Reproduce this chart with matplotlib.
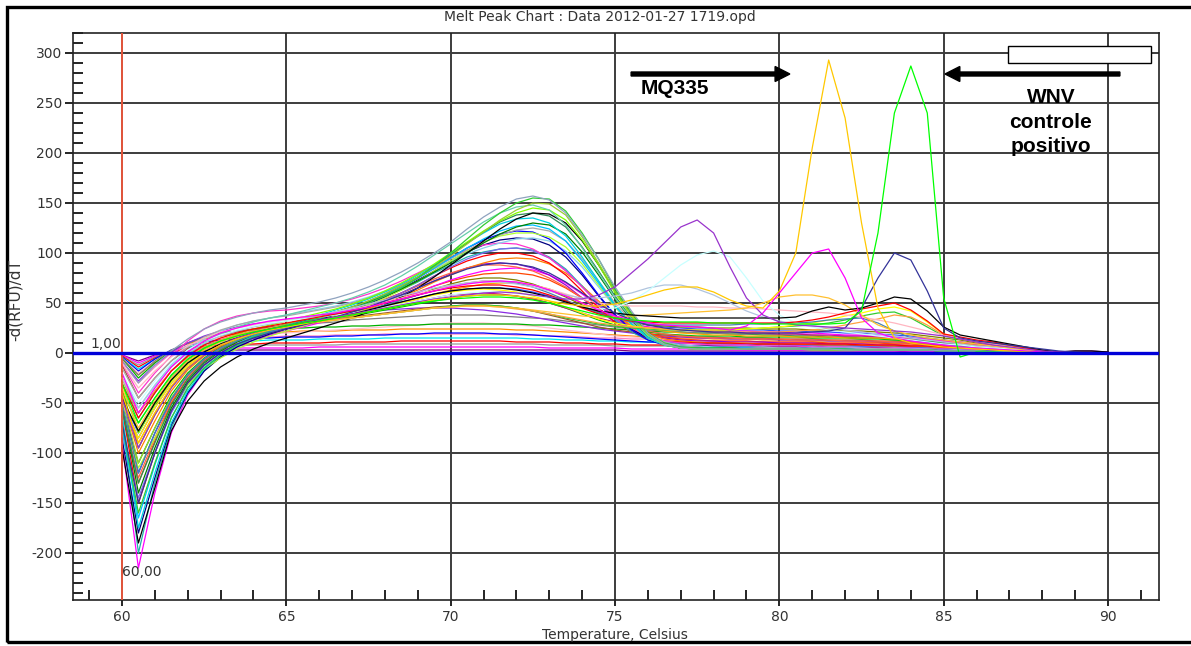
import matplotlib
matplotlib.use("Agg")
import matplotlib.pyplot as plt
from matplotlib.patches import FancyArrow, Rectangle
from matplotlib.ticker import MultipleLocator
import numpy as np

plt.rcParams["font.family"] = ["DejaVu Sans"]
plt.rcParams["axes.unicode_minus"] = False

# Temperature readings, one every 0.5 degC
temperature = np.arange(60.0, 90.01, 0.5)

# -d(RFU)/dT per well
tall_gray = [-8,-30,-12,2,14,24,31,36,40,43,
             45,48,51,55,60,66,73,81,90,100,
             111,124,136,146,154,157,153,140,118,94,
             66,42,20,9,5,4,4,4,4,4,
             4,4,4,4,3,3,3,3,3,3,
             2,2,2,1,1,1,0,0,0,0,0]
tall_green = [-70,-160,-110,-65,-35,-15,-2,8,16,22,
              27,31,35,39,44,50,57,65,75,87,
              100,114,128,140,150,155,154,142,120,94,
              64,40,20,10,6,5,5,5,4,4,
              4,4,4,4,4,3,3,3,3,3,
              2,2,2,1,1,1,0,0,0,0,0]
tall_yellowgreen = [-45,-110,-75,-45,-22,-6,5,13,20,25,
                    29,33,37,41,46,52,59,67,76,86,
                    97,109,121,133,143,150,149,138,116,90,
                    62,38,19,9,5,4,4,4,4,4,
                    4,4,3,3,3,3,3,3,3,3,
                    2,2,2,1,1,1,0,0,0,0,0]
tall_black = [-95,-190,-135,-78,-48,-28,-14,-4,4,10,
              15,20,25,30,35,41,48,56,65,76,
              88,100,112,124,134,140,139,130,112,88,
              62,38,20,9,5,4,4,4,4,4,
              4,4,4,3,3,3,3,3,3,3,
              2,2,2,1,1,1,0,0,0,0,0]
tall_cyan = [-60,-175,-120,-70,-38,-16,-2,9,17,23,
             28,33,38,43,48,54,61,69,78,88,
             99,110,120,129,134,135,130,117,96,72,
             48,29,15,8,5,5,5,4,4,4,
             4,4,4,4,3,3,3,3,3,3,
             2,2,2,1,1,1,0,0,0,0,0]
tall_lime = [-30,-80,-52,-28,-10,3,12,19,24,28,
             32,36,40,44,49,55,62,70,79,89,
             100,111,122,132,140,145,143,133,113,88,
             60,37,18,9,5,4,4,4,4,4,
             4,4,4,3,3,3,3,3,3,3,
             2,2,2,1,1,1,0,0,0,0,0]
tall_darkgreen = [-50,-140,-95,-55,-28,-10,2,11,18,24,
                  29,33,37,41,46,51,57,64,72,81,
                  90,100,110,119,126,130,128,119,101,78,
                  54,33,17,8,5,5,5,5,4,4,
                  4,4,4,4,3,3,3,3,3,3,
                  2,2,2,1,1,1,0,0,0,0,0]
tall_aqua = [-25,-65,-40,-18,-2,10,19,26,31,35,
             38,42,46,50,55,61,68,77,87,98,
             109,120,131,140,146,148,143,128,105,80,
             55,34,17,8,5,4,4,4,4,4,
             4,4,3,3,3,3,3,3,3,3,
             2,2,2,1,1,1,0,0,0,0,0]
tall_seagreen = [-55,-130,-90,-52,-26,-9,3,12,19,24,
                 29,33,37,41,46,52,59,67,76,87,
                 98,110,121,131,138,140,137,126,106,82,
                 57,35,18,9,5,5,4,4,4,4,
                 4,4,4,3,3,3,3,3,3,3,
                 2,2,2,1,1,1,0,0,0,0,0]

mid_deepsky = [-75,-165,-112,-65,-35,-15,-2,8,16,22,
               27,31,35,40,45,51,58,66,75,85,
               95,105,114,122,127,128,124,112,92,70,
               47,29,16,9,6,5,5,5,5,4,
               4,4,4,4,4,3,3,3,3,3,
               2,2,2,1,1,1,0,0,0,0,0]
mid_greenyellow = [-55,-115,-85,-55,-32,-16,-5,4,11,17,
                   22,27,32,37,42,48,55,63,72,82,
                   92,102,111,117,120,120,116,106,89,68,
                   46,28,15,8,5,4,4,4,4,4,
                   4,4,4,3,3,3,3,3,3,3,
                   2,2,2,1,1,1,0,0,0,0,0]
mid_blue = [-40,-120,-80,-46,-22,-6,5,13,19,24,
            28,32,36,40,45,51,58,66,75,85,
            95,105,113,119,122,121,114,100,80,58,
            38,23,13,8,6,5,5,5,5,4,
            4,4,4,4,4,3,3,3,3,3,
            3,2,2,2,1,1,0,0,0,0,0]
mid_pink = [-10,-40,-20,-3,12,24,32,37,40,42,
            43,45,47,50,54,59,65,72,80,88,
            96,103,108,110,109,104,95,82,66,50,
            36,25,17,12,10,9,8,8,8,7,
            7,7,6,6,6,5,5,5,5,4,
            4,3,3,2,2,1,1,0,0,0,0]
mid_orange = [-45,-100,-68,-38,-17,-3,7,14,19,23,
              26,29,32,35,39,44,50,56,63,71,
              78,85,90,94,95,94,89,80,67,52,
              38,27,19,14,12,11,10,10,10,9,
              9,9,8,8,8,8,7,7,7,6,
              5,4,3,3,2,1,1,0,0,0,0]
mid_red = [-55,-150,-100,-58,-30,-12,0,9,15,20,
           24,28,32,36,41,47,53,60,68,77,
           85,92,97,100,100,97,90,78,62,45,
           31,21,15,12,11,10,10,10,9,9,
           9,9,9,9,9,8,8,8,7,7,
           6,5,4,3,2,2,1,0,0,0,0]
mid_tomato = [-60,-125,-85,-48,-23,-7,4,12,18,22,
              26,30,34,38,43,48,54,60,67,74,
              80,85,88,88,86,82,75,66,55,44,
              34,27,22,19,17,16,15,15,14,14,
              14,13,13,13,12,12,12,11,11,10,
              9,8,6,5,4,3,2,1,0,0,0]
mid_skyblue = [-20,-55,-32,-12,3,14,22,28,32,35,
               38,41,44,47,51,56,62,69,76,84,
               92,99,105,110,114,115,112,102,86,66,
               46,30,18,11,8,7,6,6,6,6,
               5,5,5,5,5,5,4,4,4,4,
               3,3,2,2,1,1,0,0,0,0,0]
mid_violet = [-48,-85,-55,-30,-12,0,9,15,20,24,
              27,30,33,37,41,46,52,58,65,72,
              79,85,89,90,89,85,78,68,55,42,
              31,23,18,15,13,12,12,11,11,11,
              10,10,10,9,9,9,8,8,7,7,
              6,5,4,3,2,1,1,0,0,0,0]
mid_slateblue = [-80,-145,-100,-60,-32,-13,0,9,15,20,
                 25,29,33,37,42,47,53,60,68,77,
                 86,94,100,104,105,102,95,83,66,49,
                 34,23,16,12,10,9,8,8,8,7,
                 7,7,7,6,6,6,6,5,5,5,
                 4,4,3,2,2,1,1,0,0,0,0]
mid_seagreen = [-65,-200,-130,-75,-40,-18,-4,7,15,21,
                26,30,34,38,43,49,56,63,71,80,
                88,96,101,104,105,103,96,84,67,49,
                33,21,13,9,7,6,6,6,6,5,
                5,5,5,5,5,4,4,4,4,4,
                3,3,2,2,1,1,0,0,0,0,0]
mid_magenta = [-90,-215,-140,-80,-42,-18,-3,7,13,18,
               22,26,30,34,38,43,48,54,60,67,
               73,78,82,84,85,83,78,70,59,47,
               37,30,26,24,23,23,23,22,22,21,
               21,20,20,19,18,18,17,16,15,14,
               12,11,9,7,5,3,2,1,0,0,0]
mid_olive = [-35,-95,-62,-34,-15,-2,7,13,18,22,
             25,28,31,34,38,42,47,53,58,64,
             69,73,75,75,73,69,63,56,48,41,
             35,31,28,27,26,26,25,25,25,24,
             24,24,23,23,22,22,21,20,19,17,
             15,13,10,8,6,4,2,1,0,0,0]
mid_navy = [-85,-180,-125,-72,-40,-18,-4,6,13,19,
            24,28,33,38,43,49,56,64,73,82,
            92,101,108,113,115,114,108,96,78,57,
            38,24,15,10,8,7,7,6,6,6,
            6,6,5,5,5,5,5,4,4,4,
            3,3,2,2,1,1,0,0,0,0,0]
mid_gray = [-15,-45,-25,-8,6,16,23,28,32,35,
            37,40,43,46,50,55,61,68,76,85,
            94,103,111,118,123,125,122,112,94,72,
            50,32,19,11,7,6,5,5,5,5,
            5,5,4,4,4,4,4,4,3,3,
            3,2,2,1,1,1,0,0,0,0,0]

low_royal = [-45,-80,-50,-27,-10,1,9,15,19,23,
             26,29,32,35,39,43,47,51,55,59,
             62,64,65,65,64,61,57,52,46,40,
             35,31,28,26,25,24,24,23,23,23,
             22,22,21,21,20,20,19,18,17,15,
             13,11,9,7,5,3,2,1,0,0,0]
low_sienna = [-12,-45,-25,-8,4,12,17,21,24,26,
              28,30,32,34,36,38,40,42,44,46,
              47,48,48,47,45,42,38,34,30,26,
              23,21,19,18,17,16,16,15,15,15,
              14,14,14,13,13,13,12,12,11,10,
              9,8,7,5,4,3,2,1,0,0,0]
low_orangered = [-50,-130,-88,-50,-25,-8,3,11,17,22,
                 26,29,33,37,41,45,50,55,61,67,
                 72,76,79,80,80,78,73,65,55,44,
                 34,26,20,16,14,13,12,12,12,11,
                 11,11,11,10,10,10,10,9,9,8,
                 7,6,5,4,3,2,1,0,0,0,0]
low_blueviolet = [-8,-28,-12,1,10,17,22,26,29,31,
                  33,35,37,39,41,42,43,44,45,45,
                  45,44,43,41,39,36,33,30,27,24,
                  22,20,18,17,16,15,15,14,14,14,
                  13,13,13,12,12,12,11,11,10,9,
                  8,7,6,5,4,3,2,1,0,0,0]
low_amber = [-42,-90,-60,-34,-15,-2,7,13,18,22,
             25,28,31,34,37,41,45,49,54,59,
             63,66,69,70,70,68,64,58,50,42,
             35,29,25,22,20,19,18,18,17,17,
             17,16,16,16,15,15,15,14,14,13,
             12,10,8,6,5,3,2,1,0,0,0]
low_darkgray = [-5,-22,-8,3,10,15,19,22,24,26,
                27,29,30,31,33,34,35,36,37,38,
                38,38,38,37,36,35,34,32,30,28,
                26,24,23,22,21,20,20,19,19,19,
                18,18,18,17,17,17,16,16,15,14,
                13,11,9,7,5,3,2,1,0,0,0]
low_green = [-55,-110,-75,-42,-20,-5,6,13,18,22,
             25,28,31,34,37,40,43,46,49,52,
             55,57,58,58,57,54,50,45,39,33,
             28,24,21,19,18,17,17,17,16,16,
             16,16,15,15,15,14,14,13,12,11,
             10,9,7,6,4,3,2,1,0,0,0]
low_violetred = [-25,-60,-38,-18,-4,6,13,18,22,25,
                 28,31,34,37,40,43,46,49,52,55,
                 58,59,60,59,57,54,50,45,40,35,
                 31,28,26,24,23,22,21,21,20,20,
                 19,19,18,18,17,17,16,15,14,13,
                 11,10,8,6,5,3,2,1,0,0,0]

flat_green = [-5,-25,-10,2,10,16,20,22,23,24,
              25,25,26,26,27,27,28,28,28,29,
              29,29,29,29,29,28,28,27,26,25,
              24,23,22,21,21,20,20,19,19,18,
              18,17,17,16,16,15,15,14,13,12,
              11,10,8,6,5,3,2,1,0,0,0]
flat_blue = [-4,-18,-6,3,8,11,13,14,15,15,
             16,16,16,17,17,18,18,19,19,20,
             20,20,20,19,19,18,17,16,15,14,
             13,12,11,11,10,10,10,9,9,9,
             9,8,8,8,8,7,7,7,6,6,
             5,4,4,3,2,2,1,0,0,0,0]
flat_red = [-3,-14,-5,1,5,7,8,9,9,10,
            10,10,10,11,11,11,11,12,12,12,
            12,12,12,12,11,11,11,10,10,9,
            9,8,8,8,7,7,7,7,6,6,
            6,6,5,5,5,5,5,4,4,4,
            3,3,2,2,1,1,1,0,0,0,0]
flat_magenta = [-2,-10,-3,1,3,4,4,5,5,5,
                5,5,6,6,6,6,6,6,6,6,
                6,6,6,6,6,6,5,5,5,5,
                5,4,4,4,4,4,4,3,3,3,
                3,3,3,3,3,2,2,2,2,2,
                2,1,1,1,1,0,0,0,0,0,0]
flat_cyan = [-4,-16,-6,2,6,9,11,12,12,13,
             13,13,14,14,14,14,15,15,15,15,
             15,15,15,15,15,14,14,13,13,12,
             12,11,11,10,10,10,9,9,9,9,
             8,8,8,8,7,7,7,7,6,6,
             5,5,4,3,3,2,1,1,0,0,0]
flat_gray = [-3,-12,-4,1,4,6,7,7,8,8,
             8,8,8,8,9,9,9,9,9,9,
             9,9,9,9,9,9,8,8,8,8,
             7,7,7,7,6,6,6,6,6,5,
             5,5,5,5,5,4,4,4,4,4,
             3,3,2,2,2,1,1,0,0,0,0]
flat_orange = [-6,-22,-9,2,9,14,17,19,20,21,
               21,22,22,22,23,23,23,24,24,24,
               24,24,24,24,23,23,22,21,20,19,
               18,17,16,16,15,15,14,14,14,13,
               13,13,12,12,12,11,11,10,10,9,
               8,7,6,5,4,3,2,1,0,0,0]
flat_purple = [-2,-8,-2,1,2,2,3,3,3,3,
               3,3,3,3,3,3,3,3,3,3,
               3,3,3,3,3,3,3,3,3,3,
               3,2,2,2,2,2,2,2,2,2,
               2,2,2,2,2,2,2,2,1,1,
               1,1,1,1,1,1,1,1,2,2,1]
flat_rose = [-8,-30,-14,0,8,12,14,15,16,16,
             17,17,17,18,18,18,19,19,19,19,
             19,19,19,19,18,18,17,17,16,15,
             15,14,14,13,13,13,12,12,12,11,
             11,11,11,10,10,10,9,9,8,8,
             7,6,5,4,3,2,1,1,0,0,0]
flat_lightpink = [-5,-20,-8,2,8,12,15,17,18,19,
                  20,21,22,23,24,25,26,27,28,29,
                  30,30,30,29,28,27,25,23,21,19,
                  17,16,15,14,13,13,12,12,12,11,
                  11,11,10,10,10,9,9,8,8,7,
                  6,5,4,4,3,2,1,1,0,0,0]

# Wells with a second melt peak
purple_77 = [-45,-95,-62,-35,-15,-2,8,15,20,24,
             27,30,33,36,39,42,45,48,51,54,
             56,58,60,61,60,58,56,54,54,58,
             66,80,94,110,126,133,120,86,55,38,
             31,28,27,26,25,24,23,22,21,19,
             17,14,11,8,6,4,2,1,0,0,0]
palecyan_78 = [-20,-50,-28,-10,3,12,18,23,27,30,
               32,34,36,38,40,43,46,49,52,55,
               58,60,61,61,60,58,55,51,47,44,
               45,52,62,75,88,98,102,96,75,52,
               38,30,26,23,21,19,17,15,13,11,
               9,8,6,5,4,3,2,1,0,0,0]
steel_77 = [-25,-55,-33,-14,0,10,17,22,26,29,
            32,35,38,41,45,49,53,57,61,65,
            68,70,71,71,69,66,62,58,55,55,
            57,60,65,68,68,64,58,50,42,36,
            32,29,27,25,23,21,19,17,15,13,
            11,9,7,6,4,3,2,1,0,0,0]
rose_shoulder = [-10,-35,-18,-4,7,15,21,25,28,31,
                 33,36,38,41,44,47,51,55,59,63,
                 67,70,72,72,71,68,64,59,54,50,
                 48,47,47,47,47,46,46,45,45,44,
                 43,42,41,40,38,36,33,30,26,22,
                 18,15,12,9,6,4,2,1,0,0,0]
gold_81 = [-35,-75,-48,-25,-8,3,11,17,21,24,
           27,29,31,33,35,37,39,41,43,45,
           46,47,47,46,45,43,41,39,37,36,
           36,37,38,39,40,41,42,43,45,50,
           56,58,58,55,48,38,28,22,18,15,
           13,11,9,7,5,3,2,1,0,0,0]
magenta_81 = [-20,-60,-35,-14,1,12,20,25,29,32,
              34,36,38,40,43,46,50,54,58,62,
              66,69,71,72,71,68,63,57,50,43,
              37,33,30,28,27,26,25,23,27,40,
              60,80,100,104,75,35,20,15,12,10,
              8,6,5,4,3,2,1,0,0,0,0]
steelblue_82 = [-50,-120,-80,-46,-22,-6,5,12,18,22,
                26,29,32,35,39,43,48,53,58,63,
                67,70,72,72,70,66,60,53,46,40,
                35,31,29,28,28,28,28,28,29,29,
                30,30,31,33,34,35,30,22,15,11,
                9,7,6,5,4,3,2,1,0,0,0]
navy_83 = [-70,-150,-100,-58,-30,-12,0,9,15,20,
           24,28,32,36,41,46,52,58,65,72,
           78,84,88,90,89,86,80,71,60,49,
           40,33,28,25,23,22,21,21,20,20,
           20,20,21,22,25,45,75,100,93,62,
           25,15,12,10,8,6,4,2,1,0,0]
black_83 = [-45,-78,-50,-27,-10,1,9,15,20,24,
            27,30,33,36,39,43,47,51,55,59,
            62,64,65,65,63,60,56,51,46,42,
            40,38,37,36,35,35,35,35,35,35,
            35,36,42,46,43,45,50,56,54,42,
            26,18,15,12,9,6,3,1,2,2,1]
red_83 = [-30,-65,-40,-18,-3,8,15,20,24,27,
          30,33,36,39,42,46,50,54,58,62,
          65,67,68,68,66,63,58,52,45,39,
          35,32,31,30,30,30,30,30,30,30,
          30,31,33,36,40,44,47,50,43,32,
          19,16,13,11,8,5,2,1,0,0,0]
orange_83 = [-25,-60,-38,-18,-4,6,13,18,22,25,
             27,29,31,33,35,37,39,41,43,45,
             46,47,47,46,44,42,39,36,33,30,
             28,26,25,24,23,22,22,21,21,21,
             21,22,23,25,28,31,34,38,36,28,
             18,14,11,9,7,5,3,1,0,0,0]
yellow_83 = [-50,-85,-55,-30,-12,0,9,15,20,24,
             27,30,33,36,39,42,46,50,54,58,
             61,63,64,63,61,57,52,46,40,34,
             30,27,25,24,23,23,23,23,24,25,
             26,28,30,33,37,40,44,46,42,31,
             19,15,12,10,7,5,3,1,0,0,0]
green_83 = [-40,-70,-45,-23,-7,4,12,17,21,24,
            27,29,31,33,35,37,39,41,43,45,
            47,48,48,47,45,42,39,35,32,29,
            27,25,24,23,23,23,23,23,24,25,
            26,27,28,30,33,37,40,41,35,26,
            17,14,11,9,7,5,3,1,0,0,0]

# Samples pointed out on the chart
mq335 = [-40,-90,-60,-33,-14,-1,8,14,19,23,
         26,29,32,35,38,41,44,47,50,53,
         55,57,58,58,57,55,52,49,47,47,
         49,53,58,63,66,66,61,53,47,45,
         62,100,205,293,235,130,45,15,10,8,
         6,5,4,3,2,1,0,0,0,0,0]
wnv_positive = [-30,-70,-45,-22,-6,5,12,17,21,24,
                27,30,32,35,38,41,44,47,50,52,
                54,55,56,56,55,53,50,46,42,38,
                35,33,32,31,31,31,30,30,30,29,
                29,29,29,29,30,42,120,240,287,240,
                55,-4,1,1,0,0,0,0,0,0,0]

wells = [
    (flat_purple, "#800080"), (flat_magenta, "#ff00ff"), (flat_gray, "#9a9a9a"),
    (flat_red, "#ff0000"), (flat_cyan, "#00e5ee"), (flat_rose, "#ff80c0"),
    (flat_blue, "#0000ff"), (flat_orange, "#ff8c00"), (flat_lightpink, "#ffc0cb"),
    (flat_green, "#00b000"),
    (low_darkgray, "#808080"), (low_blueviolet, "#8a2be2"), (low_sienna, "#a0522d"),
    (low_green, "#00c000"), (low_violetred, "#c71585"), (low_amber, "#ffa500"),
    (low_royal, "#3050ff"), (low_orangered, "#ff4500"),
    (mid_olive, "#808000"), (mid_magenta, "#ff00ff"), (mid_violet, "#9400d3"),
    (mid_orange, "#ff8000"), (mid_tomato, "#ff6347"), (mid_red, "#ff0000"),
    (mid_seagreen, "#20b2aa"), (mid_slateblue, "#7b68ee"), (mid_navy, "#000080"),
    (mid_pink, "#ff33cc"), (mid_skyblue, "#87ceeb"), (mid_blue, "#0000ff"),
    (mid_greenyellow, "#adff2f"), (mid_gray, "#a9a9a9"), (mid_deepsky, "#00bfff"),
    (tall_darkgreen, "#008000"), (tall_cyan, "#00d0e0"), (tall_seagreen, "#2e8b57"),
    (tall_black, "#000000"), (tall_lime, "#80ff00"), (tall_aqua, "#66cdaa"),
    (tall_yellowgreen, "#9acd32"), (tall_green, "#32cd32"), (tall_gray, "#8fa3bf"),
    (green_83, "#32cd32"), (yellow_83, "#ffff00"), (orange_83, "#ffa040"),
    (steelblue_82, "#4682b4"), (rose_shoulder, "#ffb6c1"), (steel_77, "#b0c4de"),
    (palecyan_78, "#c8ffff"), (gold_81, "#ffc030"), (red_83, "#ff0000"),
    (black_83, "#000000"), (navy_83, "#333399"), (magenta_81, "#ff00ff"),
    (purple_77, "#9933cc"), (mq335, "#ffc800"), (wnv_positive, "#00ff00"),
]

W, H = 1191, 646
fig = plt.figure(figsize=(W / 100, H / 100), dpi=100)
ax = fig.add_axes([73 / W, 1 - 600 / H, (1159 - 73) / W, (600 - 33) / H])

for values, color in wells:
    ax.plot(temperature, values, color=color, lw=0.9, zorder=3)

ax.set_xlim(58.51, 91.55)
ax.set_ylim(-247, 320)
ax.xaxis.set_major_locator(MultipleLocator(5))
ax.xaxis.set_minor_locator(MultipleLocator(1))
ax.yaxis.set_major_locator(MultipleLocator(50))
ax.yaxis.set_minor_locator(MultipleLocator(10))
ax.grid(which="major", color="#3c3c3c", lw=1.4, zorder=1)
ax.set_axisbelow(True)
ax.tick_params(axis="y", which="major", direction="out", length=6, width=1.2,
               labelsize=10, labelcolor="#333333", pad=1.5)
ax.tick_params(axis="x", which="major", direction="out", length=4, width=1.2,
               labelsize=10, labelcolor="#333333", pad=3)
ax.tick_params(which="minor", direction="in", length=7, width=1.2)
for side in ("left", "bottom", "right", "top"):
    ax.spines[side].set_linewidth(1.2)
    ax.spines[side].set_color("#222222")

# Melt start marker and threshold line
ax.axvline(60, color="#ff5a3c", lw=1.2, zorder=6)
ax.axhline(0, color="#0000d8", lw=2.4, zorder=7)
ax.text(59.51, 9, "1,00", fontsize=10, color="#333333", ha="center", va="center", zorder=8)
ax.text(60.61, -219, "60,00", fontsize=10, color="#333333", ha="center", va="center", zorder=8)

# Annotations for the two samples of interest
ax.add_patch(FancyArrow(75.49, 279, 80.32 - 75.49, 0, width=4, head_width=15,
                        head_length=0.45, length_includes_head=True,
                        color="black", zorder=9, clip_on=False))
ax.add_patch(FancyArrow(90.36, 279, 85.04 - 90.36, 0, width=4, head_width=15,
                        head_length=0.45, length_includes_head=True,
                        color="black", zorder=9, clip_on=False))
ax.text(76.82, 264, "MQ335", fontsize=15, fontweight="bold", family="Liberation Sans",
        ha="center", va="center", zorder=9)
ax.text(88.26, 231, "WNV\ncontrole\npositivo", fontsize=15, fontweight="bold",
        family="Liberation Sans", ha="center", va="center", linespacing=1.38, zorder=9)
ax.add_patch(Rectangle((86.95, 290), 91.31 - 86.95, 17, facecolor="white",
                       edgecolor="black", lw=1.0, zorder=9))

fig.text(600 / W, 1 - 17 / H, "Melt Peak Chart : Data 2012-01-27 1719.opd",
         fontsize=10, color="#333333", ha="center", va="center")
fig.text(615 / W, 1 - 635 / H, "Temperature, Celsius", fontsize=10,
         color="#333333", ha="center", va="center")
fig.text(15 / W, 1 - 300 / H, "-d(RFU)/dT", fontsize=11, color="#333333",
         ha="center", va="center", rotation=90)

fig.add_artist(Rectangle((7 / W, 4 / H), 1200 / W, 635 / H, transform=fig.transFigure,
                         fill=False, lw=2.4, edgecolor="black"))

fig.savefig("out.png", dpi=100)
